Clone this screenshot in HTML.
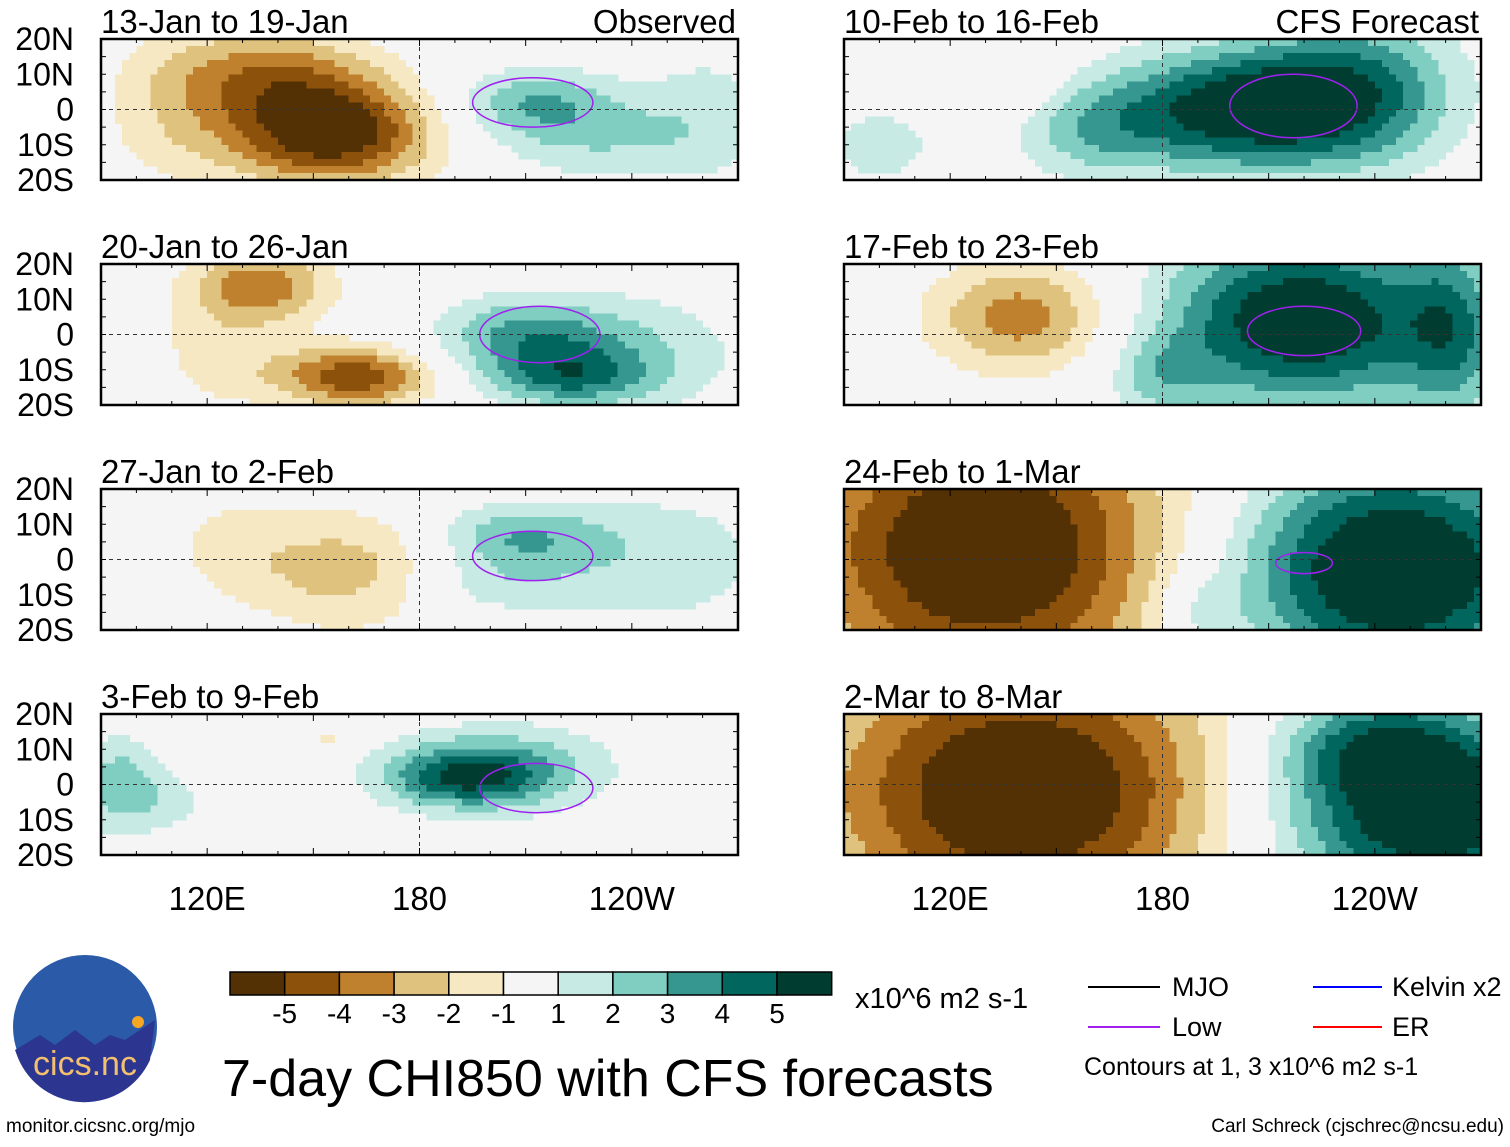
<!DOCTYPE html>
<html><head><meta charset="utf-8"><style>
body{margin:0;background:#fff}
svg text{font-family:"Liberation Sans",Arial,sans-serif}
</style></head><body>
<svg id="s" width="1510" height="1142" viewBox="0 0 1510 1142" xmlns="http://www.w3.org/2000/svg">
<rect width="1510" height="1142" fill="#fff"/>
<g id="panels"></g>
<g id="cbar"></g>
<text x="855" y="1008" font-size="29">x10^6 m2 s-1</text>
<text x="222" y="1096" font-size="52">7-day CHI850 with CFS forecasts</text>
<g>
<line x1="1088" y1="987" x2="1160" y2="987" stroke="#000" stroke-width="2"/>
<text x="1172" y="996" font-size="27">MJO</text>
<line x1="1088" y1="1027" x2="1160" y2="1027" stroke="#a020f0" stroke-width="2"/>
<text x="1172" y="1036" font-size="27">Low</text>
<line x1="1313" y1="987" x2="1382" y2="987" stroke="#0000ff" stroke-width="2"/>
<text x="1392" y="996" font-size="27">Kelvin x2</text>
<line x1="1313" y1="1027" x2="1382" y2="1027" stroke="#ff0000" stroke-width="2"/>
<text x="1392" y="1036" font-size="27">ER</text>
<text x="1084" y="1075" font-size="25">Contours at 1, 3 x10^6 m2 s-1</text>
</g>
<g>
<circle cx="85" cy="1027" r="72" fill="#2a5aa8"/>
<path d="M15,1050 L40,1035 L55,1045 L75,1030 L95,1045 L110,1035 L125,1040 L155,1020 L150,1060 A72,72 0 0 1 18,1058 Z" fill="#2c3590"/>
<circle cx="138" cy="1022" r="6" fill="#f5a623"/>
<text x="85" y="1075" font-size="34" fill="#f3c070" text-anchor="middle">cics.nc</text>
</g>
<text x="6" y="1132" font-size="19">monitor.cicsnc.org/mjo</text>
<text x="1504" y="1132" font-size="19" text-anchor="end">Carl Schreck (cjschrec@ncsu.edu)</text>
</svg>
<script>
const colors=["#543005","#8c510a","#bf812d","#dfc27d","#f6e8c3","#f5f5f5","#c7eae5","#80cdc1","#35978f","#01665e","#003c30"];
const cbarLabels=["-5","-4","-3","-2","-1","1","2","3","4","5"];
const titles=["13-Jan to 19-Jan","20-Jan to 26-Jan","27-Jan to 2-Feb","3-Feb to 9-Feb","10-Feb to 16-Feb","17-Feb to 23-Feb","24-Feb to 1-Mar","2-Mar to 8-Mar"];
const latLabels=["20N","10N","0","10S","20S"];
const lonLabels=["120E","180","120W"];
const lonTicks=[120,180,240];
// blobs per panel: [lonE, lat, amplitude, sigmaLon, sigmaLat]
const blobs=[
 [[155,-7,-6,20,10],[140,10,-3.2,20,9],[112,0,-1.6,16,16],[212,2,2.6,16,7],[232,-8,1.8,22,9],[262,0,1.2,14,15]],
 [[135,14,-3.6,14,7],[162,-12,-4.8,15,6],[125,-5,-1.5,15,12],[210,0,3.2,18,8],[222,-12,3.4,16,6],[245,-5,1.6,20,12]],
 [[160,-3,-2.6,22,12],[125,5,-1,12,10],[207,6,3.0,18,7],[250,0,1.6,22,14],[200,-8,1.5,20,6]],
 [[192,2,3.8,16,6],[205,5,2.4,22,9],[95,0,2.6,8,10],[155,13,-1.3,4,3],[110,-5,1.3,8,6]],
 [[200,0,5.6,24,12],[235,5,4.0,20,15],[160,-6,2.2,15,10],[100,-10,1.6,12,8],[135,10,-1.2,12,8]],
 [[140,5,-3.6,18,11],[220,4,6.3,28,17],[180,-12,1.8,10,8],[262,0,3,10,18]],
 [[130,3,-6.5,38,30],[245,-3,6.8,32,22],[190,-15,1.5,8,8]],
 [[140,-2,-6.5,40,28],[255,-8,6.5,30,18],[240,12,3,20,10]]
];
// low-frequency (purple) contour ellipses: [lonE, lat, rxDeg, ryDeg]
const lows=[
 [[212,2,17,7]],[[214,0,17,8]],[[212,1,17,7]],[[213,-1,16,7]],
 [[217,1,18,9]],[[220,1,16,7]],[[220,-1,8,3]],[]
];
const S=document.getElementById('panels'),NS="http://www.w3.org/2000/svg";
function el(t,a,p){const e=document.createElementNS(NS,t);for(const k in a)e.setAttribute(k,a[k]);(p||S).appendChild(e);return e;}
function level(v){if(v<-5)return 0;if(v<-4)return 1;if(v<-3)return 2;if(v<-2)return 3;if(v<-1)return 4;if(v<1)return 5;if(v<2)return 6;if(v<3)return 7;if(v<4)return 8;if(v<5)return 9;return 10;}
const PW=637,PH=141,tops=[39,264,489,714],lefts=[101,844];
for(let p=0;p<8;p++){
 const col=p<4?0:1,row=p%4,x0=lefts[col],y0=tops[row];
 const X=lon=>x0+(lon-90)/180*PW, Y=lat=>y0+(20-lat)/40*PH;
 const g=el('g',{});
 
 
 el('rect',{x:x0,y:y0,width:PW,height:PH,fill:'#f5f5f5'},g);
 const cg=el('g',{'shape-rendering':'crispEdges'},g);
 const d=2;
 for(let lon=90;lon<270;lon+=d)for(let lat=20;lat>-20;lat-=d){
  const lc=lon+d/2,la=lat-d/2;let v=0;
  for(const b of blobs[p])v+=b[2]*Math.exp(-((lc-b[0])**2/(2*b[3]**2)+(la-b[1])**2/(2*b[4]**2)));
  const L=level(v);if(L===5)continue;
  el('rect',{x:X(lon),y:Y(lat),width:PW*d/180+0.6,height:PH*d/40+0.6,fill:colors[L]},cg);
 }
 for(const e of lows[p]){const c=el('ellipse',{cx:X(e[0]),cy:Y(e[1]),rx:e[2]/180*PW,ry:e[3]/40*PH,fill:'none',stroke:'#a020f0','stroke-width':1.5},g);}
 el('line',{x1:x0,y1:Y(0),x2:x0+PW,y2:Y(0),stroke:'#333','stroke-dasharray':'4,4','stroke-width':1},g);
 el('line',{x1:X(180),y1:y0,x2:X(180),y2:y0+PH,stroke:'#333','stroke-dasharray':'4,4','stroke-width':1},g);
 for(let lon=90;lon<=270;lon+=10){const xx=X(lon),l=(lon%30===0)?7:4;el('line',{x1:xx,y1:y0,x2:xx,y2:y0+l,stroke:'#000'},g);el('line',{x1:xx,y1:y0+PH,x2:xx,y2:y0+PH-l,stroke:'#000'},g);}
 for(let lat=-20;lat<=20;lat+=5){const yy=Y(lat);el('line',{x1:x0,y1:yy,x2:x0+5,y2:yy,stroke:'#000'},g);el('line',{x1:x0+PW,y1:yy,x2:x0+PW-5,y2:yy,stroke:'#000'},g);}
 el('rect',{x:x0,y:y0,width:PW,height:PH,fill:'none',stroke:'#000','stroke-width':2.5},g);
 const t=el('text',{x:x0,y:y0-6,'font-size':33},g);t.textContent=titles[p];
 
 
 if(row===0){const r=el('text',{x:x0+PW-2,y:y0-6,'font-size':33,'text-anchor':'end'},g);r.textContent=col?'CFS Forecast':'Observed';}
 if(col===0)latLabels.forEach((s,i)=>{const tt=el('text',{x:74,y:Y(20-i*10)+11,'font-size':32,'text-anchor':'end'},g);tt.textContent=s;});
 if(row===3)lonTicks.forEach((l,i)=>{const tt=el('text',{x:X(l),y:910,'font-size':33,'text-anchor':'middle'},g);tt.textContent=lonLabels[i];});
}
const C=document.getElementById('cbar'),bw=54.7;
colors.forEach((c,i)=>{const r=el('rect',{x:230+i*bw,y:972,width:bw,height:23,fill:c,stroke:'#000','stroke-width':1.5},C);});
cbarLabels.forEach((s,i)=>{const t=el('text',{x:230+(i+1)*bw,y:1023,'font-size':28,'text-anchor':'middle'},C);t.textContent=s;});
</script>
</body></html>
